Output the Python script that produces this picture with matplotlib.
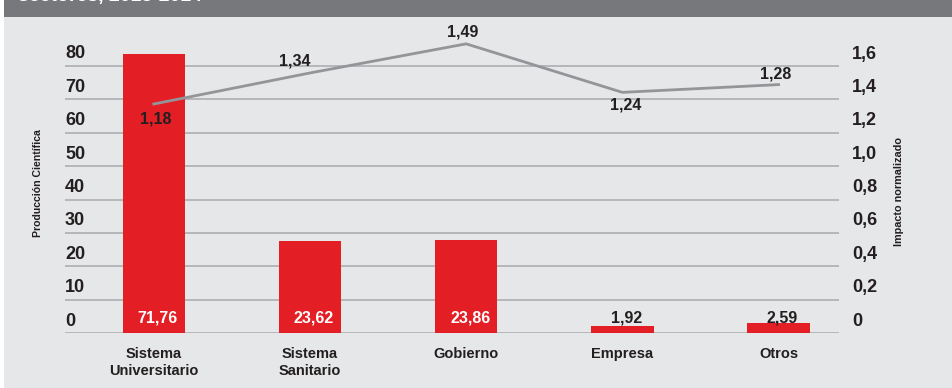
import matplotlib
matplotlib.use("Agg")
import matplotlib.pyplot as plt
import matplotlib.transforms as mtransforms
from matplotlib.patches import Rectangle

plt.rcParams['font.family'] = ['Liberation Sans', 'DejaVu Sans']
plt.rcParams['font.weight'] = 'bold'

# datos
sectores = ['Sistema\nUniversitario', 'Sistema\nSanitario', 'Gobierno', 'Empresa', 'Otros']
produccion = [71.76, 23.62, 23.86, 1.92, 2.59]
impacto = [1.18, 1.34, 1.49, 1.24, 1.28]
ticks_prod = [0, 10, 20, 30, 40, 50, 60, 70, 80]
ticks_imp = ['0', '0,2', '0,4', '0,6', '0,8', '1,0', '1,2', '1,4', '1,6']

# colores
ROJO = '#e31e24'
GRIS_LINEA = '#939598'
GRIS_REJILLA = '#a7a9ac'
FONDO = '#e6e7e8'
CABECERA = '#77787b'
TEXTO = '#231f20'

# desplazamiento (px) de las etiquetas del impacto respecto a cada punto
desp_imp = [(2, -15), (-15, 12), (-3, 12), (3, -13), (-3, 11)]


def fmt(v):
    return ('%.2f' % v).replace('.', ',')


fig = plt.figure(figsize=(9.53, 3.88), dpi=100, facecolor='white')
W, H = 953.0, 388.0

# panel de fondo y cabecera
fig.patches.append(Rectangle((4 / W, 0), 1 - 4 / W, 1 - 17 / H, transform=fig.transFigure,
                             facecolor=FONDO, edgecolor='none', zorder=-2))
fig.patches.append(Rectangle((4 / W, 1 - 17 / H), 1 - 4 / W, 17 / H, transform=fig.transFigure,
                             facecolor=CABECERA, edgecolor='none', zorder=-2))
fig.text(18 / W, 1 - 1.5 / H, 'sectores, 2013-2014', color='white', fontsize=14,
         fontweight='bold', va='baseline', ha='left')

pos = [65 / W, 55 / H, 774 / W, 310.5 / H]
x = list(range(len(sectores)))
xlim = (-0.5685, 4.387)

# eje de la rejilla (escala de las etiquetas 0-80 / 0-1,6)
ax = fig.add_axes(pos)
ax.set_facecolor('none')
ax.set_xlim(*xlim)
ax.set_ylim(0, 80 * 310.5 / 267)
ax.set_yticks(ticks_prod)
ax.set_yticklabels([str(t) for t in ticks_prod])
ax.grid(axis='y', color=GRIS_REJILLA, linewidth=1.1)
ax.set_axisbelow(True)
for s in ax.spines.values():
    s.set_visible(False)
ax.tick_params(axis='y', length=0, pad=0, labelsize=13, labelcolor=TEXTO)
ax.tick_params(axis='x', length=0, pad=10, labelsize=10.5, labelcolor=TEXTO)
ax.set_xticks(x)
ax.set_xticklabels(sectores, linespacing=1.25)
subir = mtransforms.ScaledTranslation(0, 14 / 100, fig.dpi_scale_trans)
for lab in ax.get_yticklabels():
    lab.set_ha('left')
    lab.set_transform(lab.get_transform() + subir)

sec = ax.secondary_yaxis('right', functions=(lambda y: y / 50, lambda y: y * 50))
sec.set_yticks([i * 0.2 for i in range(9)])
sec.set_yticklabels(ticks_imp)
sec.tick_params(length=0, pad=9.4, labelsize=13, labelcolor=TEXTO)
for s in sec.spines.values():
    s.set_visible(False)
for lab in sec.get_yticklabels():
    lab.set_transform(lab.get_transform() + subir)

# barras: producción científica
axb = fig.add_axes(pos, sharex=ax)
axb.set_facecolor('none')
axb.set_ylim(0, 80)
axb.axis('off')
barras = axb.bar(x, produccion, width=0.4, color=ROJO, zorder=2)
for xi, v in zip(x, produccion):
    color = 'white' if v > 10 else TEXTO
    axb.annotate(fmt(v), (xi, 0), xytext=(4, 15), textcoords='offset pixels',
                 ha='center', va='center', fontsize=11.5, color=color, zorder=4)

# línea: impacto normalizado
axl = fig.add_axes(pos, sharex=ax)
axl.set_facecolor('none')
axl.set_ylim(0, 1.6)
axl.axis('off')
axl.plot(x, impacto, color=GRIS_LINEA, linewidth=2, zorder=3, clip_on=False)
for xi, v, d in zip(x, impacto, desp_imp):
    axl.annotate(fmt(v), (xi, v), xytext=d, textcoords='offset pixels',
                 ha='center', va='center', fontsize=11.5, color=TEXTO)

fig.text(38 / W, 1 - 183 / H, 'Producción Científica', rotation=90, ha='center',
         va='center', fontsize=7.6, color=TEXTO)
fig.text(899 / W, 1 - 192 / H, 'Impacto normalizado', rotation=90, ha='center',
         va='center', fontsize=7.8, color=TEXTO)

fig.savefig('out.png', dpi=100, facecolor='white')
